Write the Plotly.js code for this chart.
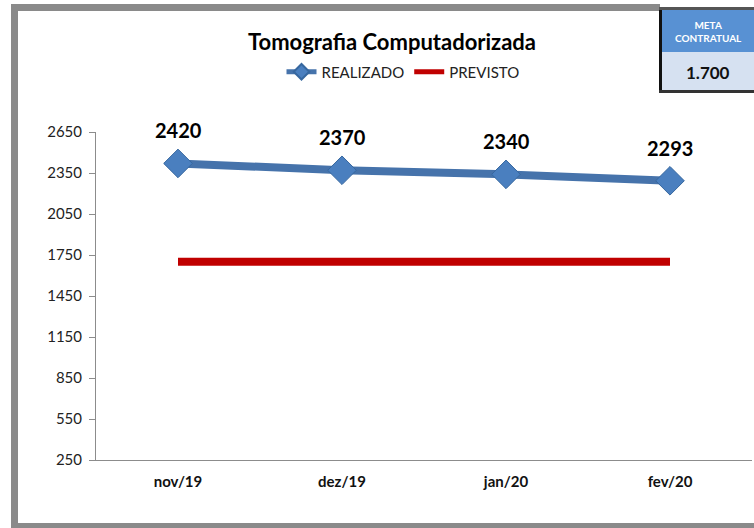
<!DOCTYPE html>
<html>
<head>
<meta charset="utf-8">
<script src="https://cdn.plot.ly/plotly-3.0.1.min.js"></script>
<style>html,body{margin:0;padding:0;background:#fff;}#chart{width:754px;height:528px;}</style>
</head>
<body>
<div id="chart"></div>
<script>
const categories = ["nov/19", "dez/19", "jan/20", "fev/20"];
const realizado = [2420, 2370, 2340, 2293];
const previsto = [1700, 1700, 1700, 1700];
const yTicks = [250, 550, 850, 1150, 1450, 1750, 2050, 2350, 2650];
const metaLabel = "META<br>CONTRATUAL";
const metaValue = "1.700";

const W = 754, H = 528;
const px = x => x / W;
const py = y => 1 - y / H;

const traces = [
  {
    x: categories, y: realizado, name: "REALIZADO", type: "scatter", mode: "lines+markers",
    line: {color: "#4673ab", width: 8},
    marker: {symbol: "diamond", size: 22, color: "#4a7fbf", line: {color: "#36679f", width: 1}}
  },
  {
    x: categories, y: previsto, name: "PREVISTO", type: "scatter", mode: "lines",
    line: {color: "#c00000", width: 8}
  }
];

const annotations = categories.map((c, i) => ({
  x: c, y: realizado[i], xref: "x", yref: "y", text: "<b>" + realizado[i] + "</b>",
  showarrow: false, yshift: 33, font: {family: "Lato, sans-serif", size: 20, color: "#000"}
}));
annotations.push({
  xref: "paper", yref: "paper", x: px(708), y: py(31), xanchor: "center", yanchor: "middle",
  text: "<b>" + metaLabel + "</b>", showarrow: false,
  font: {family: "Lato, sans-serif", size: 10, color: "#ffffff"}, align: "center"
});
annotations.push({
  xref: "paper", yref: "paper", x: px(708), y: py(72), xanchor: "center", yanchor: "middle",
  text: "<b>" + metaValue + "</b>", showarrow: false,
  font: {family: "Lato, sans-serif", size: 17, color: "#111"}
});

const shapes = [
  // gray frame
  {type: "rect", xref: "paper", yref: "paper", x0: px(11), x1: px(18), y0: py(528), y1: py(4), fillcolor: "#8a8a8a", line: {width: 0}},
  {type: "rect", xref: "paper", yref: "paper", x0: px(11), x1: px(660), y0: py(11), y1: py(4), fillcolor: "#8a8a8a", line: {width: 0}},
  {type: "rect", xref: "paper", yref: "paper", x0: px(11), x1: px(754), y0: py(528), y1: py(523), fillcolor: "#8a8a8a", line: {width: 0}},
  // meta box
  {type: "rect", xref: "paper", yref: "paper", x0: px(659), x1: px(754), y0: py(52), y1: py(9), fillcolor: "#5891d3", line: {width: 0}},
  {type: "rect", xref: "paper", yref: "paper", x0: px(659), x1: px(754), y0: py(91), y1: py(52), fillcolor: "#d6e1f1", line: {width: 0}},
  {type: "rect", xref: "paper", yref: "paper", x0: px(659), x1: px(662), y0: py(93), y1: py(8), fillcolor: "#111", line: {width: 0}},
  {type: "rect", xref: "paper", yref: "paper", x0: px(659), x1: px(754), y0: py(93), y1: py(90), fillcolor: "#333", line: {width: 0}},
  {type: "rect", xref: "paper", yref: "paper", x0: px(659), x1: px(754), y0: py(10), y1: py(7), fillcolor: "#555", line: {width: 0}}
];

const layout = {
  width: W, height: H,
  margin: {l: 0, r: 0, t: 0, b: 0},
  paper_bgcolor: "#fff", plot_bgcolor: "#fff",
  font: {family: "Lato, sans-serif", color: "#222"},
  title: {text: "<b>Tomografia Computadorizada</b>", x: px(392), xanchor: "center", y: py(42), yanchor: "middle",
          font: {family: "Lato, sans-serif", size: 22, color: "#000"}},
  showlegend: true,
  legend: {orientation: "h", x: px(403), xanchor: "center", y: py(72), yanchor: "middle", itemsizing: "constant",
           font: {family: "Lato, sans-serif", size: 15, color: "#222"}, tracegroupgap: 0},
  xaxis: {
    domain: [px(96), px(752)], type: "category", range: [-0.5, 3.5],
    showline: true, linecolor: "#8c8c8c", linewidth: 1, ticks: "", showgrid: false, zeroline: false,
    tickfont: {family: "Lato, sans-serif", size: 15, color: "#111", weight: "bold"}, automargin: false,
    ticklabelstandoff: 8, fixedrange: true
  },
  yaxis: {
    domain: [py(460), py(132)], range: [250, 2650], tickvals: yTicks, ticktext: yTicks.map(String),
    showline: true, linecolor: "#8c8c8c", linewidth: 1, ticks: "outside", ticklen: 6, tickcolor: "#8c8c8c",
    showgrid: false, zeroline: false, automargin: false,
    tickfont: {family: "Lato, sans-serif", size: 15, color: "#222"}, ticklabelstandoff: 4
  },
  shapes: shapes,
  annotations: annotations
};

Plotly.newPlot("chart", traces, layout, {staticPlot: true, displayModeBar: false});
</script>
</body>
</html>
